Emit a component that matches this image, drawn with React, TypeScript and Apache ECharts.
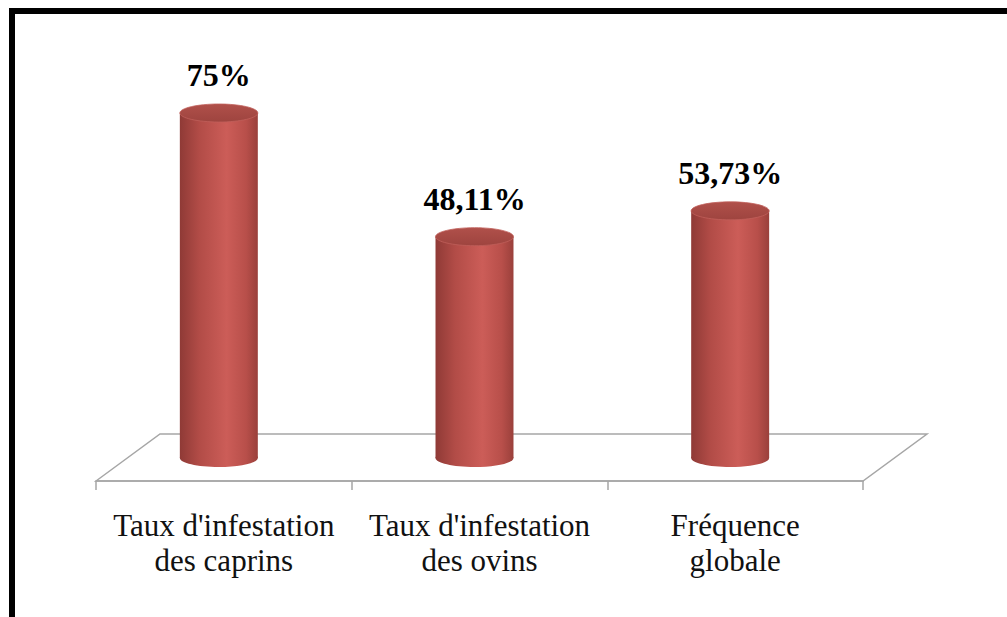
import React, { useEffect, useRef } from "react";
import * as echarts from "echarts";

const categories = [
  "Taux d'infestation\ndes caprins",
  "Taux d'infestation\ndes ovins",
  "Fréquence\nglobale",
];
const values = [75, 48.11, 53.73];

export default function App() {
  const ref = useRef<HTMLDivElement>(null);
  useEffect(() => {
    if (!ref.current) return;
    const chart = echarts.init(ref.current, null, { renderer: "svg" });
    const bodyGrad = new echarts.graphic.LinearGradient(0, 0, 1, 0, [
      { offset: 0, color: "#8f3a36" },
      { offset: 0.25, color: "#b24c47" },
      { offset: 0.6, color: "#cc5d58" },
      { offset: 0.85, color: "#b84f4a" },
      { offset: 1, color: "#9a403b" },
    ]);
    const topGrad = new echarts.graphic.LinearGradient(0, 0, 0, 1, [
      { offset: 0, color: "#b0504a" },
      { offset: 1, color: "#9e443f" },
    ]);
    chart.setOption({
      animation: false,
      backgroundColor: "#ffffff",
      grid: { left: 96, right: 144, top: 90, bottom: 159 },
      xAxis: {
        type: "category",
        data: categories,
        offset: 23,
        axisLine: { show: true, onZero: false, lineStyle: { color: "#a6a6a6", width: 1.5 } },
        axisTick: { show: true, length: 9, lineStyle: { color: "#a6a6a6", width: 1.5 } },
        axisLabel: {
          margin: 27,
          fontFamily: "Liberation Serif",
          fontSize: 31,
          lineHeight: 35,
          color: "#111",
          interval: 0,
        },
      },
      yAxis: { type: "value", min: 0, max: 80, show: false, splitLine: { show: false } },
      graphic: [
        {
          type: "polygon",
          z: 0,
          shape: { points: [[96, 481], [160, 434], [927, 434], [863, 481]] },
          style: { fill: "#ffffff", stroke: "#a6a6a6", lineWidth: 1.5 },
        },
        { type: "rect", z: 10, shape: { x: 9, y: 8, width: 998, height: 6 }, style: { fill: "#000" } },
        { type: "rect", z: 10, shape: { x: 9, y: 8, width: 6, height: 609 }, style: { fill: "#000" } },
      ],
      series: [
        {
          type: "custom",
          z: 5,
          data: values.map((v, i) => [i, v]),
          encode: { x: 0, y: 1 },
          renderItem: (params: any, api: any) => {
            const idx = api.value(0);
            const val = api.value(1);
            const top = api.coord([idx, val]);
            const base = api.coord([idx, 0]);
            const bandW = api.size([1, 0])[0];
            const w = bandW * 0.305;
            const cx = top[0] - 5;
            const rx = w / 2;
            const ry = 9;
            const text = String(values[params.dataIndex]).replace(".", ",") + "%";
            return {
              type: "group",
              children: [
                {
                  type: "ellipse",
                  shape: { cx, cy: base[1], rx, ry },
                  style: { fill: bodyGrad },
                },
                {
                  type: "rect",
                  shape: { x: cx - rx, y: top[1], width: w, height: base[1] - top[1] },
                  style: { fill: bodyGrad },
                },
                {
                  type: "ellipse",
                  shape: { cx, cy: top[1], rx, ry },
                  style: { fill: topGrad, stroke: "#c0605a", lineWidth: 0.8 },
                },
                {
                  type: "text",
                  x: cx,
                  y: top[1] - 38,
                  style: {
                    text,
                    font: 'bold 32px "Liberation Serif"',
                    fill: "#000",
                    align: "center",
                    verticalAlign: "middle",
                    textAlign: "center",
                    textVerticalAlign: "middle",
                  },
                },
              ],
            };
          },
        },
      ],
    });
    return () => chart.dispose();
  }, []);
  return (
    <div
      ref={ref}
      style={{ position: "fixed", left: 0, top: 0, width: 1007, height: 617, background: "#fff" }}
    />
  );
}
